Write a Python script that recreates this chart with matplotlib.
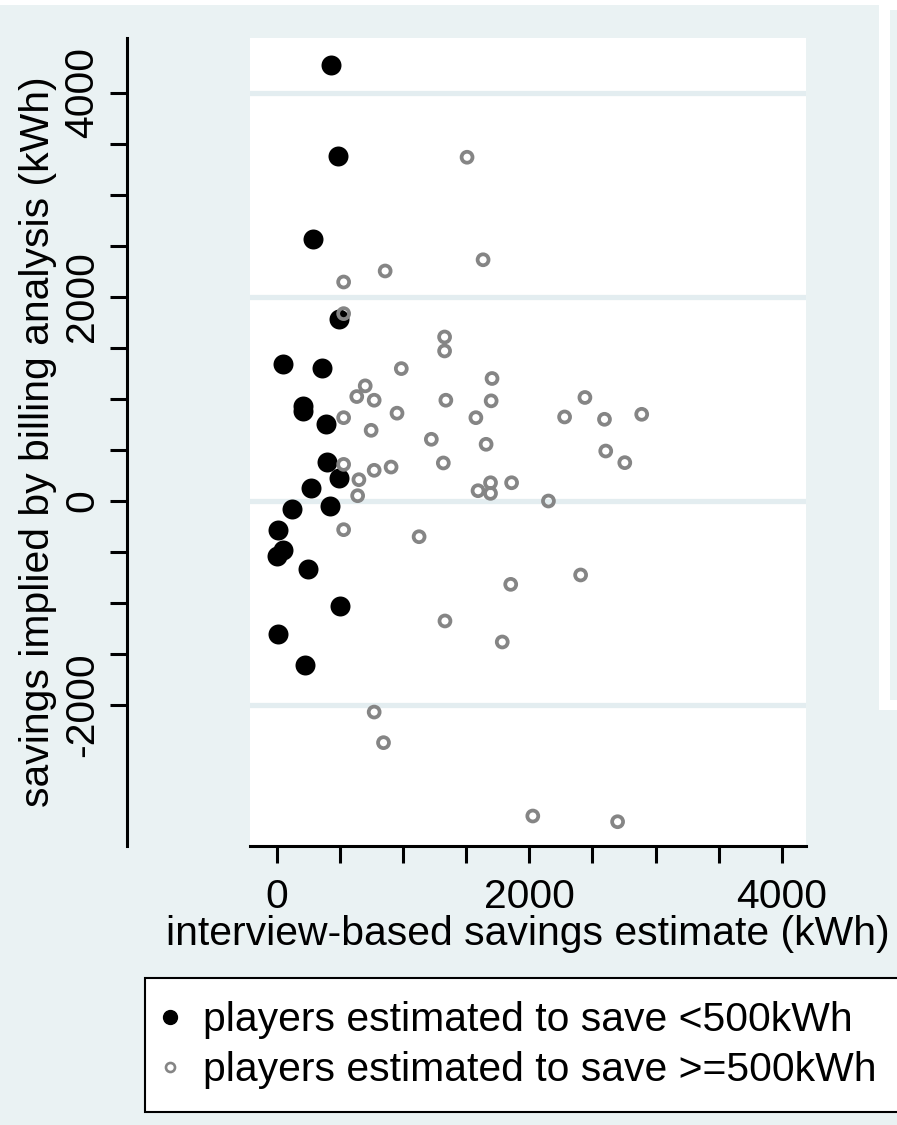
import numpy as np
import matplotlib
matplotlib.use("Agg")
import matplotlib.pyplot as plt
from matplotlib.lines import Line2D
from matplotlib.patches import Rectangle

plt.rcParams['font.family'] = ['Liberation Sans', 'DejaVu Sans']

# ---- data (kWh) ----
low_x = [427, 481, 286, 494, 47, 353, 206, 206, 386, 393, 494, 269, 118, 417,
         5, 0, 48, 246, 497, 7, 218]
low_y = [4278, 3380, 2565, 1788, 1347, 1308, 936, 882, 752, 382, 229, 124, -75, -49,
         -284, -540, -480, -667, -1029, -1307, -1608]

high_x = [1506, 1633, 857, 528, 528, 1328, 1328, 985, 1704, 699, 632, 770, 1338, 1697,
          2440, 951, 528, 1576, 2279, 2595, 2890, 746, 1223, 1657, 2605, 2756, 1318,
          528, 904, 770, 649, 639, 1692, 1859, 1593, 1692, 2151, 528, 1126, 2406,
          1852, 1331, 1785, 770, 844, 2027, 2699]
high_y = [3370, 2365, 2255, 2147, 1837, 1608, 1471, 1298, 1201, 1129, 1024, 988, 988, 982,
          1015, 861, 817, 817, 824, 801, 850, 693, 605, 556, 490, 376, 373,
          359, 333, 301, 209, 52, 179, 179, 101, 75, 0, -281, -350, -725,
          -817, -1176, -1382, -2069, -2369, -3088, -3144]

y_major = [-2000, 0, 2000, 4000]
x_major = [0, 2000, 4000]
legend_labels = ["players estimated to save <500kWh", "players estimated to save >=500kWh"]
xlabel = "interview-based savings estimate (kWh)"
ylabel = "savings implied by billing analysis (kWh)"

BG = '#eaf2f3'
GRAY = '#858585'
FS = 29.4
W, H = 897, 1125

fig = plt.figure(figsize=(W / 100, H / 100), dpi=100, facecolor=BG)
ax = fig.add_axes([250 / W, 1 - 846 / H, (806 - 250) / W, (846 - 38) / H])
ax.set_facecolor('white')

# spines first (set_position resets tick objects)
for s in ['top', 'right']:
    ax.spines[s].set_visible(False)
ax.spines['left'].set_position(('outward', 88.6))
ax.spines['left'].set_linewidth(2.2)
ax.spines['bottom'].set_linewidth(2.2)

ax.scatter(low_x, low_y, s=207, c='black', linewidths=0, zorder=3)
ax.scatter(high_x, high_y, s=62, facecolors='none', edgecolors=GRAY, linewidths=2.7, zorder=4)

ax.set_xlim(-214, 4192)
ax.set_ylim(-3382, 4539)

ax.tick_params(axis='y', which='both', length=12, width=2.2, direction='out',
               labelsize=FS, pad=6.7)
ax.tick_params(axis='x', which='both', length=12, width=2.2, direction='out',
               labelsize=FS, pad=11)

ax.set_yticks(y_major)
ax.set_yticks(np.arange(-2000, 4001, 500), minor=True)
ax.set_yticklabels([str(v) for v in y_major], rotation=90, rotation_mode='anchor',
                   ha='center', va='bottom')
ax.set_xticks(x_major)
ax.set_xticks(np.arange(0, 4001, 500), minor=True)
ax.set_xticklabels([str(v) for v in x_major])

ax.grid(axis='y', which='major', color='#e3edf0', lw=3.8)
ax.set_axisbelow(True)

ax.set_xlabel(xlabel, fontsize=FS, labelpad=-1)
ax.set_ylabel(ylabel, fontsize=FS, labelpad=4)

# decorative strips (top white strip and right neighbouring panel edge)
fig.patches.append(Rectangle((0, 1 - 5 / H), 1, 5 / H, transform=fig.transFigure,
                             facecolor='white', edgecolor='none', zorder=0))
fig.patches.append(Rectangle((879 / W, 1 - 710 / H), 18 / W, 710 / H, transform=fig.transFigure,
                             facecolor='white', edgecolor='none', zorder=0))
fig.patches.append(Rectangle((890 / W, 1 - 700 / H), 7 / W, 690 / H, transform=fig.transFigure,
                             facecolor=BG, edgecolor='none', zorder=0))

handles = [
    Line2D([], [], ls='none', marker='o', color='black', ms=10),
    Line2D([], [], ls='none', marker='o', mfc='none', mec=GRAY, mew=1.9, ms=6.5),
]
leg = fig.legend(handles, legend_labels, loc='upper left',
                 bbox_to_anchor=(145 / W, 1 - 978 / H), bbox_transform=fig.transFigure,
                 frameon=True, fancybox=False, edgecolor='black', framealpha=1,
                 borderpad=0.56, handlelength=0.1, handletextpad=0.76,
                 labelspacing=0.3, borderaxespad=0, fontsize=FS)
leg.get_frame().set_linewidth(1.5)

fig.savefig('out.png', dpi=100, facecolor=BG)
